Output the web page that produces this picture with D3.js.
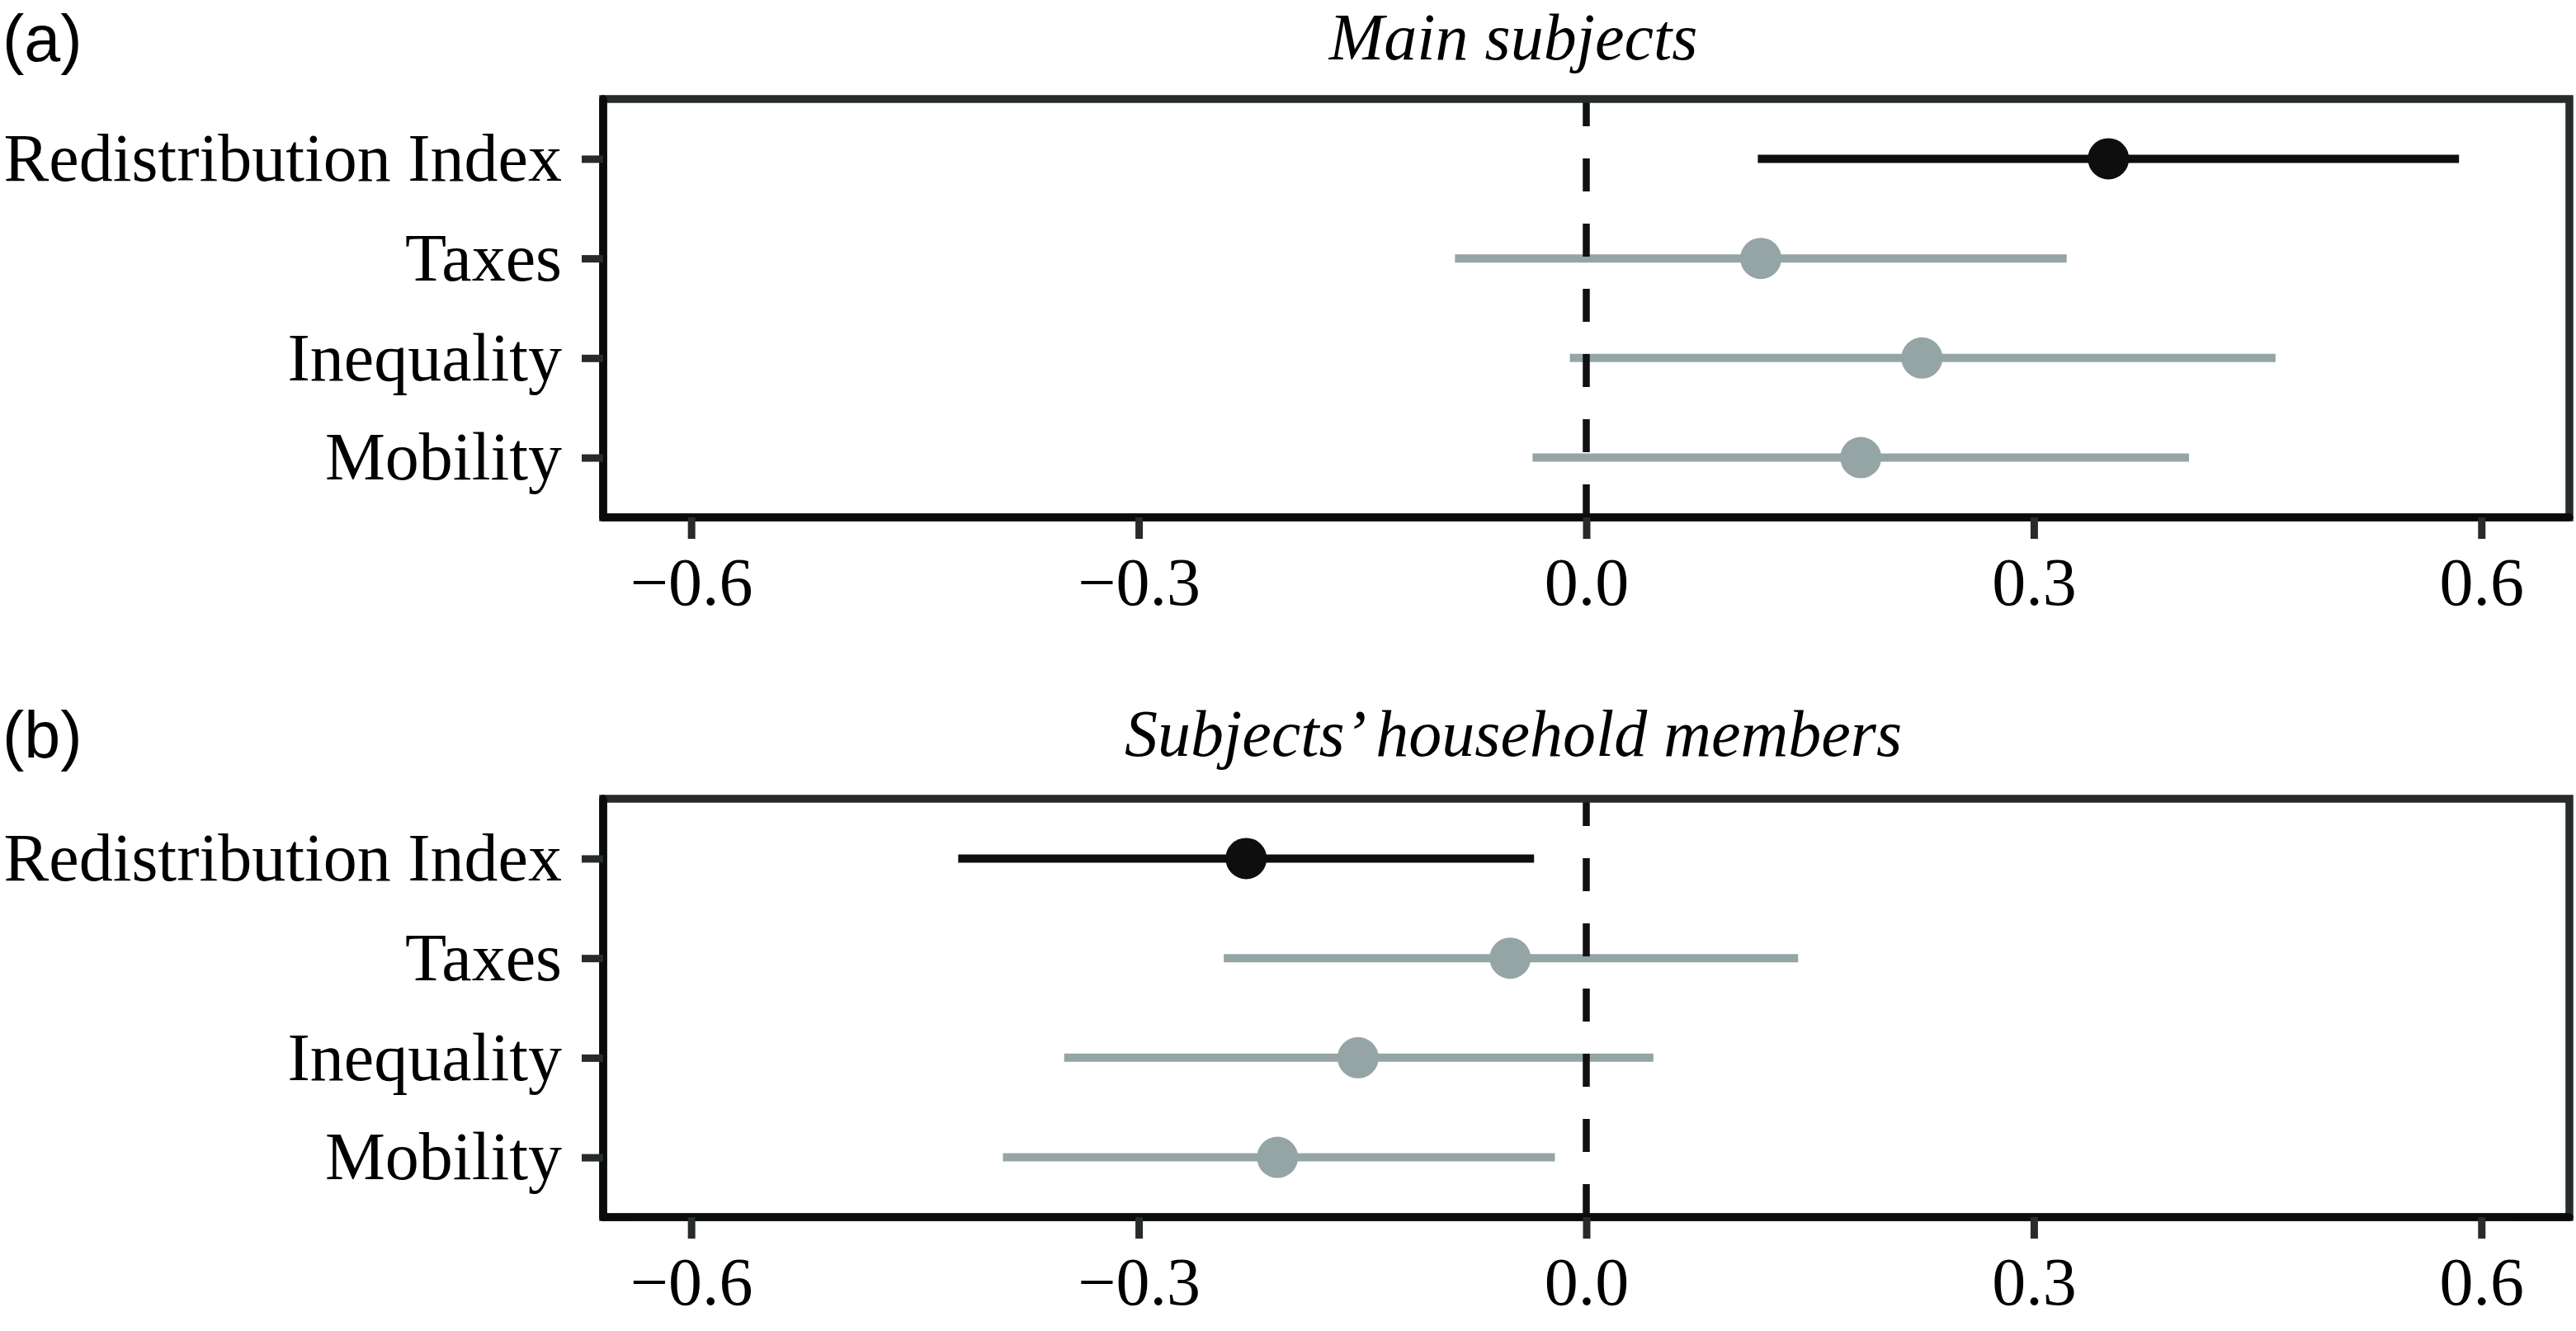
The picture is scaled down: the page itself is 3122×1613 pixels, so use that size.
<!DOCTYPE html>
<html>
<head>
    <meta charset="utf-8">
    <title>Redistribution effects</title>
    <script src="https://d3js.org/d3.v7.min.js"></script>
    <style>
        body { margin: 0; background: #fff; }
    </style>
</head>
<body>
    <script>
// outcomes, top to bottom
const categories = ["Redistribution Index", "Taxes", "Inequality", "Mobility"];

// (a) main subjects: estimate and interval
const mainEst  = [0.350, 0.117, 0.225, 0.184];
const mainLow  = [0.115, -0.088, -0.011, -0.036];
const mainHigh = [0.585, 0.322, 0.462, 0.404];

// (b) subjects' household members
const hhEst  = [-0.228, -0.051, -0.153, -0.207];
const hhLow  = [-0.421, -0.243, -0.350, -0.391];
const hhHigh = [-0.035, 0.142, 0.045, -0.021];

const xTicks = [-0.6, -0.3, 0.0, 0.3, 0.6];

const W = 3122, H = 1613;
const left = 731, right = 3114;
const serif = "'Liberation Serif', 'Times New Roman', serif";
const sans = "'Liberation Sans', Arial, sans-serif";

const svg = d3.select("body")
    .append("svg")
    .attr("width", W)
    .attr("height", H);

const x = d3.scaleLinear()
    .domain([-0.659, 0.659])
    .range([left, right]);

function drawPanel(tag, title, est, low, high, top, bottom, titleY) {
    let y = d3.scalePoint()
        .domain(categories)
        .range([top, bottom])
        .padding(0.6);

    let rows = categories.map((c, i) => ({cat: c, est: est[i], low: low[i], high: high[i]}));
    let colour = d => d.cat === "Redistribution Index" ? "#0e0e0e" : "#95a5a6";

    // panel tag and title
    svg.append("text")
        .attr("x", 3)
        .attr("y", titleY + 2)
        .style("font-family", sans)
        .style("font-size", "79px")
        .text(tag);

    svg.append("text")
        .attr("x", 1834)
        .attr("y", titleY)
        .attr("text-anchor", "middle")
        .style("font-family", serif)
        .style("font-style", "italic")
        .style("font-size", "80px")
        .text(title);

    let g = svg.append("g");

    // intervals
    g.selectAll(".bar")
        .data(rows)
        .enter()
        .append("line")
        .attr("x1", d => x(d.low))
        .attr("x2", d => x(d.high))
        .attr("y1", d => y(d.cat))
        .attr("y2", d => y(d.cat))
        .style("stroke", colour)
        .style("stroke-width", 10);

    // zero line, dashes start from the bottom
    g.append("line")
        .attr("x1", x(0)).attr("x2", x(0))
        .attr("y1", bottom).attr("y2", top)
        .style("stroke", "#111")
        .style("stroke-width", 8.5)
        .style("stroke-dasharray", "40,39");

    // estimates
    g.selectAll(".pt")
        .data(rows)
        .enter()
        .append("circle")
        .attr("cx", d => x(d.est))
        .attr("cy", d => y(d.cat))
        .attr("r", 25)
        .style("fill", colour);

    // frame
    svg.append("rect")
        .attr("x", left).attr("y", top)
        .attr("width", right - left).attr("height", bottom - top)
        .style("fill", "none")
        .style("stroke", "#272b2b")
        .style("stroke-width", 9.5);

    let xAxis = svg.append("g")
        .attr("transform", `translate(0,${bottom})`)
        .call(d3.axisBottom(x)
            .tickValues(xTicks)
            .tickSize(26)
            .tickPadding(22)
            .tickFormat(d3.format(".1f")));

    let yAxis = svg.append("g")
        .attr("transform", `translate(${left},0)`)
        .call(d3.axisLeft(y)
            .tickSize(26)
            .tickPadding(24));

    [xAxis, yAxis].forEach(a => {
        a.select(".domain")
            .style("stroke", "#0b0b0b")
            .style("stroke-width", 9.5)
            .style("stroke-linecap", "round");
        a.selectAll(".tick line")
            .style("stroke", "#272b2b")
            .style("stroke-width", 9);
        a.selectAll(".tick text")
            .style("font-family", serif)
            .style("font-size", "82px")
            .style("fill", "#000");
    });
    // keep only the axis spines, not the outer tick stubs of the domain path
    xAxis.select(".domain").attr("d", `M${left},0H${right}`);
    yAxis.select(".domain").attr("d", `M0,${top}V${bottom}`);
}

drawPanel("(a)", "Main subjects", mainEst, mainLow, mainHigh, 120, 627, 72);
drawPanel("(b)", "Subjects\u2019 household members", hhEst, hhLow, hhHigh, 968, 1475, 916);

    </script>
</body>
</html>
